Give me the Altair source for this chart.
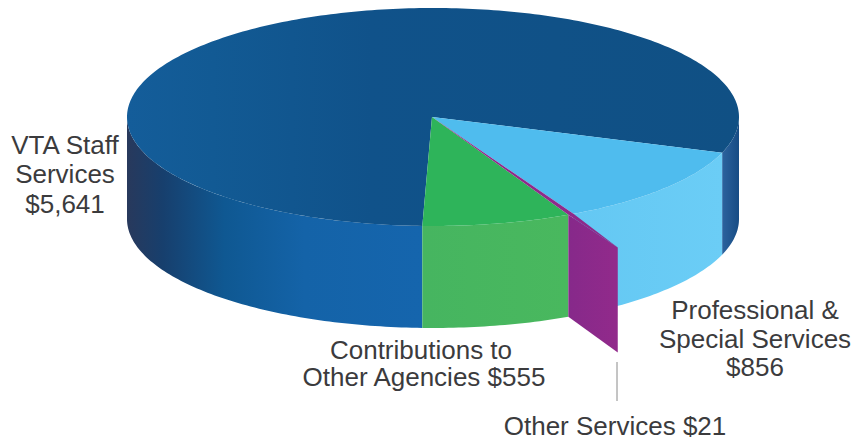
import math
import altair as alt
import pandas as pd

# ---- chart values
categories = ["Contributions to Other Agencies", "Other Services", "Professional & Special Services", "VTA Staff Services"]
values = [555, 21, 856, 5641]

label_lines = ["VTA Staff", "Services", "$5,641",
               "Professional &", "Special Services", "$856",
               "Contributions to", "Other Agencies $555",
               "Other Services $21"]
label_x = [65, 65, 65, 755, 755, 755, 421, 424, 615]
label_y = [146, 175, 205, 311, 340, 368, 351, 378, 427]

# ---- layout
W, H = 843, 432
CX, CY, RX, RY, DEPTH = 433, 117, 306, 109, 102
START = 92.0          # screen angle of the first slice edge, running anticlockwise on screen
EXPLODE = 1.34        # how far the thin slice's wall sticks out

total = sum(values)
edges = [START]
for v in values:
    edges.append(edges[-1] - v / total * 360)
g0, g1, p1, b1, v1 = edges


def pt(a, r=1.0, dz=0.0):
    t = math.radians(a)
    return CX + RX * r * math.cos(t), CY + RY * r * math.sin(t) + dz


def arc(a0, a1, dz=0.0):
    n = max(2, int(abs(a1 - a0)) + 2)
    return [pt(a0 + (a1 - a0) * i / (n - 1), 1.0, dz) for i in range(n)]


def wall(a0, a1):
    return arc(a0, a1) + arc(a1, a0, DEPTH)


def sector(a0, a1):
    return [(CX - 1, CY)] + arc(a0, a1)


x_s = alt.Scale(domain=[8, 8 + W], nice=False, zero=False)
y_s = alt.Scale(domain=[8 + H, 8], nice=False, zero=False)


def grad(stops):
    return alt.Gradient(
        gradient="linear", x1=0, y1=0, x2=1, y2=0,
        stops=[alt.GradientStop(offset=o, color=c) for o, c in stops])


def shape(points, fill):
    df = pd.DataFrame({"x": [p[0] for p in points], "y": [p[1] for p in points],
                       "i": range(len(points))})
    return alt.Chart(df).mark_line(fill=fill, strokeWidth=0, interpolate="linear").encode(
        x=alt.X("x:Q", scale=x_s, axis=None),
        y=alt.Y("y:Q", scale=y_s, axis=None),
        order=alt.Order("i:Q"),
    )


p_in = pt(g1)
p_out = pt((g1 + p1) / 2, EXPLODE)
purple_wall = [p_in, p_out, (p_out[0], p_out[1] + DEPTH + 3), (p_in[0], p_in[1] + DEPTH)]
purple_top = [(CX - 1, CY), pt(g1), p_out, pt(p1)]

layers = [
    # side walls
    shape(wall(180, g0), grad([(0, "#28395c"), (0.12, "#173f6d"), (0.33, "#0f5892"), (0.6, "#1463a8"), (1, "#1565ad")])),
    shape(wall(b1, 0), grad([(0, "#2c639e"), (1, "#174c84")])),
    shape(wall(p1, b1), grad([(0, "#64c8f3"), (1, "#6bcdf6")])),
    shape(wall(g0, g1), grad([(0, "#46b560"), (1, "#49b85e")])),
    shape(purple_wall, grad([(0, "#86298a"), (1, "#922a8b")])),
    # top faces
    shape(sector(b1, g0 - 360), grad([(0, "#145d9a"), (0.14, "#125a94"), (0.4, "#10528a"), (1, "#105084")])),
    shape(sector(p1, b1), "#4fbcee"),
    shape(sector(g0, g1), "#2eb45a"),
    shape(purple_top, "#8e2a8a"),
]

rule_df = pd.DataFrame({"x": [617], "y": [362], "y2": [401]})
layers.append(alt.Chart(rule_df).mark_rule(color="#8a8a8a", strokeWidth=1).encode(
    x=alt.X("x:Q", scale=x_s, axis=None),
    y=alt.Y("y:Q", scale=y_s, axis=None),
    y2="y2:Q",
))

label_df = pd.DataFrame({"t": label_lines, "x": label_x, "y": label_y})
layers.append(alt.Chart(label_df).mark_text(
    font="Liberation Sans", fontSize=26, color="#3b3b3d", align="center", baseline="middle"
).encode(
    x=alt.X("x:Q", scale=x_s, axis=None),
    y=alt.Y("y:Q", scale=y_s, axis=None),
    text="t:N",
))

chart = alt.layer(*layers).properties(
    width=W, height=H, padding=0, autosize=alt.AutoSizeParams(type="none"), background="white",
).configure_view(stroke=None)

chart.save("out.html", embed_options={"renderer": "svg", "actions": False})
